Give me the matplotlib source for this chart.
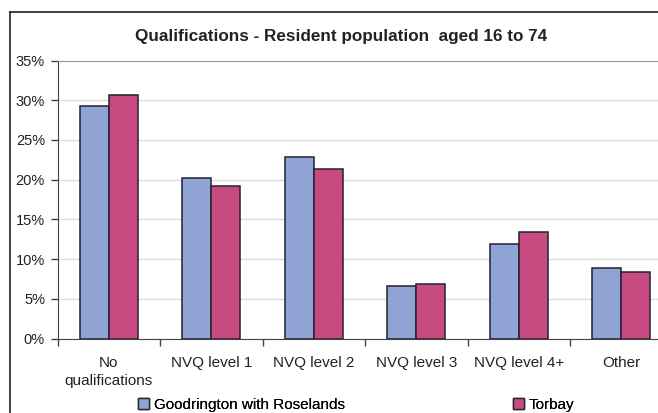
import matplotlib
matplotlib.use("Agg")
import matplotlib.pyplot as plt
from matplotlib.patches import Rectangle
from matplotlib.lines import Line2D
import numpy as np

categories = ["No\nqualifications", "NVQ level 1", "NVQ level 2",
              "NVQ level 3", "NVQ level 4+", "Other"]
goodrington = [29.3, 20.2, 22.9, 6.6, 11.9, 8.9]
torbay = [30.6, 19.2, 21.3, 6.8, 13.4, 8.4]
series_names = ["Goodrington with Roselands", "Torbay"]
yticks = [0, 5, 10, 15, 20, 25, 30, 35]

blue = "#8fa4d5"
red = "#c84a80"
edge = "#222233"

plt.rcParams["font.family"] = ["Liberation Sans", "DejaVu Sans"]

W, H = 658, 413
fig = plt.figure(figsize=(W / 100, H / 100), dpi=100)

# outer chart border (cropped on right and bottom)
fig.add_artist(Line2D([10 / W, 10 / W], [0, 1 - 12 / H], color="#222222",
                      lw=1.2, transform=fig.transFigure))
fig.add_artist(Line2D([10 / W, 1], [1 - 12 / H, 1 - 12 / H], color="#222222",
                      lw=1.2, transform=fig.transFigure))

left, right = 57.5, 658
top, bottom = 60.5, 338.5
ax = fig.add_axes([left / W, 1 - bottom / H, (right - left) / W, (bottom - top) / H])

cat_w = 102.5
x = np.arange(len(categories))
bw = 0.283
ax.bar(x - bw / 2, goodrington, bw, color=blue, edgecolor=edge, linewidth=1.1,
       label=series_names[0], zorder=3)
ax.bar(x + bw / 2, torbay, bw, color=red, edgecolor=edge, linewidth=1.1,
       label=series_names[1], zorder=3)

ax.set_yticks(yticks)
ax.set_yticklabels([f"{v}%" for v in yticks], fontsize=10.5, color="#222222")
ax.grid(axis="y", color="#dddddd", lw=1, zorder=0)

ax.set_xticks(np.arange(len(categories) + 1) - 0.5)
ax.set_xticklabels([])
ax.set_xticks(x, minor=True)
ax.set_xticklabels(categories, minor=True, fontsize=11, color="#222222",
                   linespacing=1.35)
ax.tick_params(axis="x", which="minor", length=0, pad=12.5)
ax.tick_params(axis="x", which="major", length=5, color="#444444", width=1)
ax.tick_params(axis="y", length=5, color="#444444", width=1, pad=4)

# limits after ticks (set_xticks would widen them); plot runs past the right edge
ax.set_xlim(-0.5, -0.5 + (right - left) / cat_w)
ax.set_ylim(0, 35)

ax.spines["right"].set_visible(False)
ax.spines["top"].set_color("#999999")
ax.spines["left"].set_color("#444444")
ax.spines["bottom"].set_color("#444444")

fig.text(341 / W, 1 - 36 / H, "Qualifications - Resident population  aged 16 to 74",
         ha="center", va="center", fontsize=12.3, fontweight="bold", color="#222222")

handles = [Rectangle((0, 0), 1, 1, facecolor=blue, edgecolor=edge, lw=1),
           Rectangle((0, 0), 1, 1, facecolor=red, edgecolor=edge, lw=1)]
for h, name, lx in zip(handles, series_names, [138, 513]):
    fig.add_artist(fig.legend([h], [name], loc="center left",
                              bbox_to_anchor=(lx / W, 1 - 405 / H), frameon=False,
                              fontsize=11, handlelength=0.7, handleheight=0.7,
                              handletextpad=0.35, borderpad=0, borderaxespad=0))

fig.savefig("out.png", dpi=100)
